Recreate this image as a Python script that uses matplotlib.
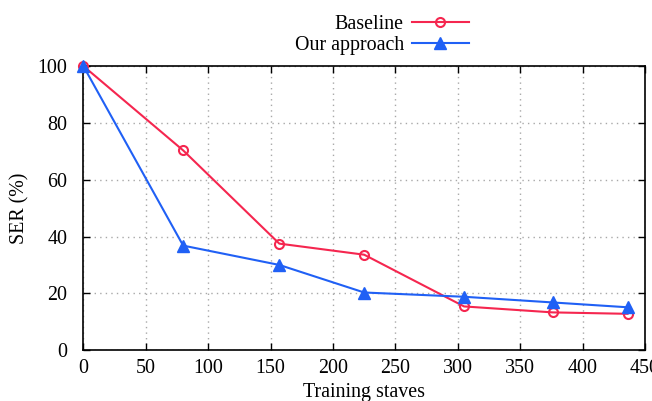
import numpy as np
import matplotlib
matplotlib.use('Agg')
import matplotlib.pyplot as plt

plt.rcParams['font.family'] = ['Liberation Serif', 'DejaVu Serif']
plt.rcParams['font.size'] = 14.4

staves = [0, 80, 157, 225, 305, 376, 436]
baseline = [100, 70.3, 37.5, 33.6, 15.4, 13.3, 12.8]
ours = [100, 36.8, 30.0, 20.3, 18.8, 16.8, 15.1]

xticks = [0, 50, 100, 150, 200, 250, 300, 350, 400, 450]
yticks = [0, 20, 40, 60, 80, 100]

red = '#f5264f'
blue = '#2060f5'

fig = plt.figure(figsize=(6.52, 4.01), dpi=100)
ax = fig.add_axes([0.1278, 0.1267, 0.8615, 0.7087])

ax.plot(staves, baseline, color=red, lw=1.5, marker='o', ms=6.5,
        mfc='none', mec=red, mew=1.5, label='Baseline', clip_on=False, zorder=3)
ax.plot(staves, ours, color=blue, lw=1.5, marker='^', ms=8,
        mfc=blue, mec=blue, label='Our approach', clip_on=False, zorder=4)

ax.set_xlim(0, 450)
ax.set_ylim(0, 100)
ax.set_xticks(xticks)
ax.set_yticks(yticks)
ax.grid(True, color='#a8a8a8', ls=(0, (1, 3)), lw=1.0)
ax.tick_params(direction='in', length=5, width=1, top=True, right=True)
ax.tick_params(axis='x', pad=6)
ax.tick_params(axis='y', pad=11.5)
for s in ax.spines.values():
    s.set_linewidth(1.2)

ax.set_xlabel('Training staves', labelpad=4)
ax.set_ylabel('SER (%)', labelpad=6)

fig.legend(loc='upper right', bbox_to_anchor=(0.742, 1.0), frameon=False,
           markerfirst=False, handlelength=2.85, labelspacing=0.1,
           borderpad=0.25, handletextpad=0.4)

plt.savefig('out.png', dpi=100)
